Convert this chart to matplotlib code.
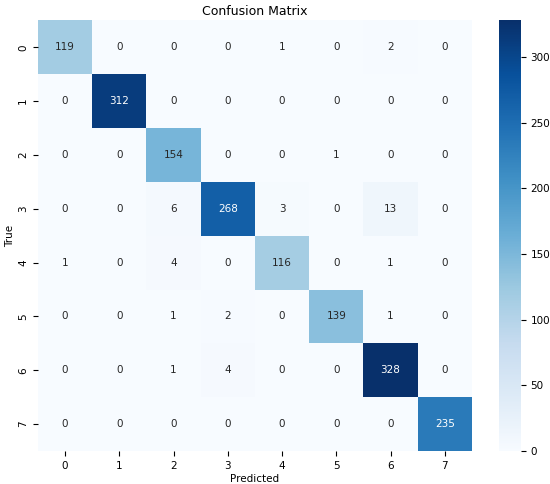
import matplotlib
matplotlib.use("Agg")
import matplotlib.pyplot as plt
import seaborn as sns
import numpy as np

labels = ["0", "1", "2", "3", "4", "5", "6", "7"]
row0 = [119, 0, 0, 0, 1, 0, 2, 0]
row1 = [0, 312, 0, 0, 0, 0, 0, 0]
row2 = [0, 0, 154, 0, 0, 1, 0, 0]
row3 = [0, 0, 6, 268, 3, 0, 13, 0]
row4 = [1, 0, 4, 0, 116, 0, 1, 0]
row5 = [0, 0, 1, 2, 0, 139, 1, 0]
row6 = [0, 0, 1, 4, 0, 0, 328, 0]
row7 = [0, 0, 0, 0, 0, 0, 0, 235]
cm = np.array([row0, row1, row2, row3, row4, row5, row6, row7])

fig = plt.figure(figsize=(5.5, 4.84), dpi=100)
ax = fig.add_axes([0.069, 0.068, 0.789, 0.890])
cax = fig.add_axes([0.907, 0.068, 0.040, 0.890])
sns.heatmap(cm, annot=True, fmt="d", cmap="Blues", ax=ax, cbar_ax=cax,
            xticklabels=labels, yticklabels=labels, annot_kws={"size": 7.5})
ax.set_title("Confusion Matrix", fontsize=9, pad=4)
ax.set_xlabel("Predicted", fontsize=7.5, labelpad=2)
ax.set_ylabel("True", fontsize=7.5, labelpad=2)
ax.tick_params(labelsize=7.5)
cax.tick_params(labelsize=7.5)
fig.savefig("out.png", dpi=100)
